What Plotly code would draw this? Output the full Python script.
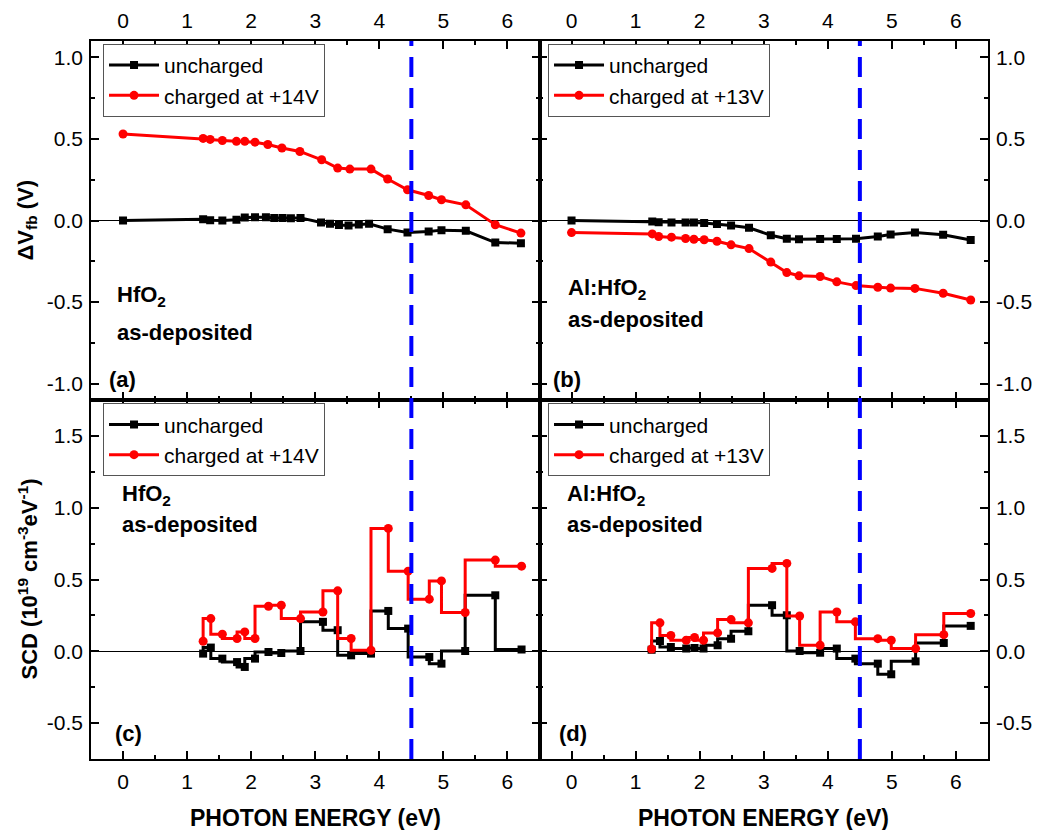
import plotly.graph_objects as go
from plotly.subplots import make_subplots

# ---------------- data ----------------
# (a) HfO2, flat-band voltage shift
a_unch_x = [0, 1.25, 1.36, 1.55, 1.77, 1.90, 2.06, 2.23, 2.36, 2.49, 2.62, 2.77, 3.09, 3.23, 3.37,
            3.52, 3.68, 3.84, 4.13, 4.44, 4.77, 4.97, 5.35, 5.81, 6.21]
a_unch_y = [0.0, 0.008, 0.002, 0.0, 0.004, 0.018, 0.02, 0.02, 0.015, 0.016, 0.014, 0.016, -0.012, -0.02,
            -0.028, -0.03, -0.025, -0.02, -0.053, -0.074, -0.067, -0.059, -0.063, -0.135, -0.139]
a_chg_x = [0, 1.25, 1.36, 1.55, 1.77, 1.90, 2.06, 2.26, 2.48, 2.76, 3.10, 3.35, 3.54, 3.87, 4.13,
           4.44, 4.77, 4.97, 5.35, 5.81, 6.21]
a_chg_y = [0.53, 0.503, 0.497, 0.49, 0.485, 0.485, 0.48, 0.466, 0.444, 0.423, 0.372, 0.321, 0.315,
           0.315, 0.254, 0.188, 0.153, 0.127, 0.096, -0.026, -0.077]

# (b) Al:HfO2, flat-band voltage shift
b_x = [0, 1.26, 1.36, 1.56, 1.78, 1.91, 2.07, 2.27, 2.49, 2.77, 3.11, 3.36, 3.55, 3.88, 4.14,
       4.44, 4.78, 4.98, 5.36, 5.80, 6.23]
b_unch_y = [0.0, -0.006, -0.01, -0.012, -0.012, -0.012, -0.016, -0.022, -0.03, -0.045, -0.09, -0.112,
            -0.115, -0.113, -0.113, -0.112, -0.098, -0.086, -0.074, -0.088, -0.12]
b_chg_y = [-0.074, -0.082, -0.098, -0.102, -0.11, -0.115, -0.118, -0.127, -0.149, -0.172, -0.255,
           -0.319, -0.339, -0.343, -0.376, -0.399, -0.409, -0.414, -0.416, -0.446, -0.487]

# (c) HfO2, spectral charge density
c_x = [1.25, 1.37, 1.55, 1.78, 1.90, 2.06, 2.27, 2.47, 2.77, 3.12, 3.35, 3.56, 3.87, 4.14, 4.45,
       4.78, 4.97, 5.34, 5.81, 6.22]
c_chg_y = [0.07, 0.228, 0.119, 0.089, 0.135, 0.089, 0.314, 0.321, 0.228, 0.274, 0.421, 0.089, 0.007,
           0.856, 0.558, 0.363, 0.49, 0.27, 0.635, 0.593]
c_unch_y = [-0.016, 0.026, -0.051, -0.075, -0.109, -0.051, -0.005, -0.012, 0.002, 0.205, 0.147, -0.028,
            -0.016, 0.281, 0.158, -0.04, -0.086, 0.002, 0.39, 0.012]

# (d) Al:HfO2, spectral charge density
d_x = [1.25, 1.38, 1.55, 1.79, 1.92, 2.06, 2.28, 2.49, 2.76, 3.13, 3.36, 3.56, 3.88, 4.14, 4.43,
       4.78, 4.99, 5.37, 5.81, 6.23]
d_chg_y = [0.016, 0.198, 0.11, 0.077, 0.096, 0.077, 0.128, 0.221, 0.198, 0.577, 0.612, 0.246, 0.042,
           0.274, 0.205, 0.088, 0.077, 0.019, 0.116, 0.263]
d_unch_y = [0.01, 0.072, 0.03, 0.019, 0.023, 0.019, 0.042, 0.088, 0.14, 0.321, 0.251, 0.002, -0.01,
            0.019, -0.051, -0.086, -0.16, -0.07, 0.058, 0.177]

threshold_ev = 4.5

x_ticks = [0, 1, 2, 3, 4, 5, 6]
x_ticktext = ["0", "1", "2", "3", "4", "5", "6"]
top_y_ticks = [-1.0, -0.5, 0.0, 0.5, 1.0]
top_y_ticktext = ["-1.0", "-0.5", "0.0", "0.5", "1.0"]
bot_y_ticks = [-0.5, 0.0, 0.5, 1.0, 1.5]
bot_y_ticktext = ["-0.5", "0.0", "0.5", "1.0", "1.5"]

label_unch = "uncharged"
label_chg_a = "charged at +14V"
label_chg_b = "charged at +13V"

# ---------------- figure ----------------
FONT = "Liberation Sans, Arial, sans-serif"
fig = make_subplots(rows=2, cols=2, horizontal_spacing=0, vertical_spacing=0)

BLACK = "#000000"
RED = "#ff0000"
LW = 3
MS = 8


def add_pair(row, col, xu, yu, xc, yc, chg_label, legend, shape):
    fig.add_trace(go.Scatter(x=xu, y=yu, mode="lines+markers", name=label_unch,
                             line=dict(color=BLACK, width=LW, shape=shape),
                             marker=dict(symbol="square", size=MS, color=BLACK),
                             legend=legend), row=row, col=col)
    fig.add_trace(go.Scatter(x=xc, y=yc, mode="lines+markers", name=chg_label,
                             line=dict(color=RED, width=LW, shape=shape),
                             marker=dict(symbol="circle", size=MS + 1, color=RED),
                             legend=legend), row=row, col=col)


add_pair(1, 1, a_unch_x, a_unch_y, a_chg_x, a_chg_y, label_chg_a, "legend", "linear")
add_pair(1, 2, b_x, b_unch_y, b_x, b_chg_y, label_chg_b, "legend2", "linear")
add_pair(2, 1, c_x, c_unch_y, c_x, c_chg_y, label_chg_a, "legend3", "vh")
add_pair(2, 2, d_x, d_unch_y, d_x, d_chg_y, label_chg_b, "legend4", "vh")

tickfont = dict(family=FONT, size=21, color="black")
common_x = dict(range=[-0.5, 6.5], tickmode="array", tickvals=x_ticks, ticktext=x_ticktext,
                ticks="inside", ticklen=8, tickwidth=1.5, tickcolor="black",
                showline=True, linecolor="black", linewidth=1.5, mirror="ticks",
                showgrid=False, zeroline=False, tickfont=tickfont,
                minor=dict(tickmode="linear", tick0=0, dtick=0.5, ticks="inside", ticklen=4,
                           tickwidth=1.5, tickcolor="black", showgrid=False))
common_y = dict(ticks="inside", ticklen=8, tickwidth=1.5, tickcolor="black",
                showline=True, linecolor="black", linewidth=1.5, mirror="ticks",
                showgrid=False, zeroline=True, zerolinecolor="black", zerolinewidth=1.3,
                tickfont=tickfont, tickmode="array", ticklabelstandoff=2)

fig.update_xaxes(**common_x)
fig.update_xaxes(side="top", ticklabelstandoff=3, row=1, col=1)
fig.update_xaxes(side="top", ticklabelstandoff=3, row=1, col=2)
fig.update_xaxes(side="bottom", ticklabelstandoff=3, row=2, col=1)
fig.update_xaxes(side="bottom", ticklabelstandoff=3, row=2, col=2)

fig.update_yaxes(**common_y)
for col, side in ((1, "left"), (2, "right")):
    fig.update_yaxes(range=[-1.1, 1.1], tickvals=top_y_ticks, ticktext=top_y_ticktext, side=side,
                     minor=dict(tickmode="linear", tick0=0, dtick=0.25, ticks="inside", ticklen=4,
                                tickwidth=1.5, tickcolor="black", showgrid=False),
                     row=1, col=col)
    fig.update_yaxes(range=[-0.75, 1.75], tickvals=bot_y_ticks, ticktext=bot_y_ticktext, side=side,
                     minor=dict(tickmode="linear", tick0=0, dtick=0.25, ticks="inside", ticklen=4,
                                tickwidth=1.5, tickcolor="black", showgrid=False),
                     row=2, col=col)

# dashed threshold lines spanning both rows
for xr in ("x", "x2"):
    fig.add_shape(type="line", xref=xr, yref="paper", x0=threshold_ev, x1=threshold_ev, y0=0, y1=1,
                  line=dict(color="#0000ff", width=4, dash="20px,11px"), layer="above")

# legends
leg_common = dict(bgcolor="white", bordercolor="#555555", borderwidth=1,
                  font=dict(family=FONT, size=21, color="black"),
                  xanchor="left", yanchor="top", itemwidth=50, tracegroupgap=0)
fig.update_layout(
    legend=dict(x=0.0134, y=0.996, **leg_common),
    legend2=dict(x=0.5095, y=0.996, **leg_common),
    legend3=dict(x=0.0134, y=0.4955, **leg_common),
    legend4=dict(x=0.5095, y=0.4955, **leg_common),
)

# panel texts
bold = dict(family=FONT, size=22, color="black")
texts = [
    ("x domain", "y domain", 0.053, 0.29, "<b>HfO<sub>2</sub></b>"),
    ("x domain", "y domain", 0.053, 0.187, "<b>as-deposited</b>"),
    ("x domain", "y domain", 0.036, 0.056, "<b>(a)</b>"),
    ("x2 domain", "y2 domain", 0.058, 0.31, "<b>Al:HfO<sub>2</sub></b>"),
    ("x2 domain", "y2 domain", 0.058, 0.225, "<b>as-deposited</b>"),
    ("x2 domain", "y2 domain", 0.025, 0.056, "<b>(b)</b>"),
    ("x3 domain", "y3 domain", 0.065, 0.735, "<b>HfO<sub>2</sub></b>"),
    ("x3 domain", "y3 domain", 0.065, 0.652, "<b>as-deposited</b>"),
    ("x3 domain", "y3 domain", 0.049, 0.072, "<b>(c)</b>"),
    ("x4 domain", "y4 domain", 0.056, 0.735, "<b>Al:HfO<sub>2</sub></b>"),
    ("x4 domain", "y4 domain", 0.056, 0.652, "<b>as-deposited</b>"),
    ("x4 domain", "y4 domain", 0.038, 0.072, "<b>(d)</b>"),
]
for xr, yr, x, y, t in texts:
    fig.add_annotation(xref=xr, yref=yr, x=x, y=y, text=t, showarrow=False,
                       xanchor="left", yanchor="middle", font=bold)

# axis titles
title_font = dict(family=FONT, size=22, color="black")
fig.add_annotation(xref="paper", yref="paper", x=0, y=0.75, xshift=-65, textangle=-90,
                   text="<b>ΔV<sub>fb</sub> (V)</b>", showarrow=False, font=title_font,
                   xanchor="center", yanchor="middle")
fig.add_annotation(xref="paper", yref="paper", x=0, y=0.25, xshift=-64, textangle=-90,
                   text="<b>SCD (10<sup>19</sup> cm<sup>-3</sup>eV<sup>-1</sup>)</b>", showarrow=False,
                   font=title_font, xanchor="center", yanchor="middle")
for xp in (0.25, 0.75):
    fig.add_annotation(xref="paper", yref="paper", x=xp, y=0, yshift=-74,
                       text="<b>PHOTON ENERGY (eV)</b>", showarrow=False,
                       font=dict(family=FONT, size=23, color="black"),
                       xanchor="center", yanchor="bottom")

# the page body adds an 8px offset, so the figure is 8px smaller and margins are trimmed
fig.update_layout(width=1032, height=822, margin=dict(l=83, r=52, t=33, b=71, autoexpand=False),
                  paper_bgcolor="white", plot_bgcolor="white", font=dict(family=FONT),
                  showlegend=True)

fig.write_html("out.html")
